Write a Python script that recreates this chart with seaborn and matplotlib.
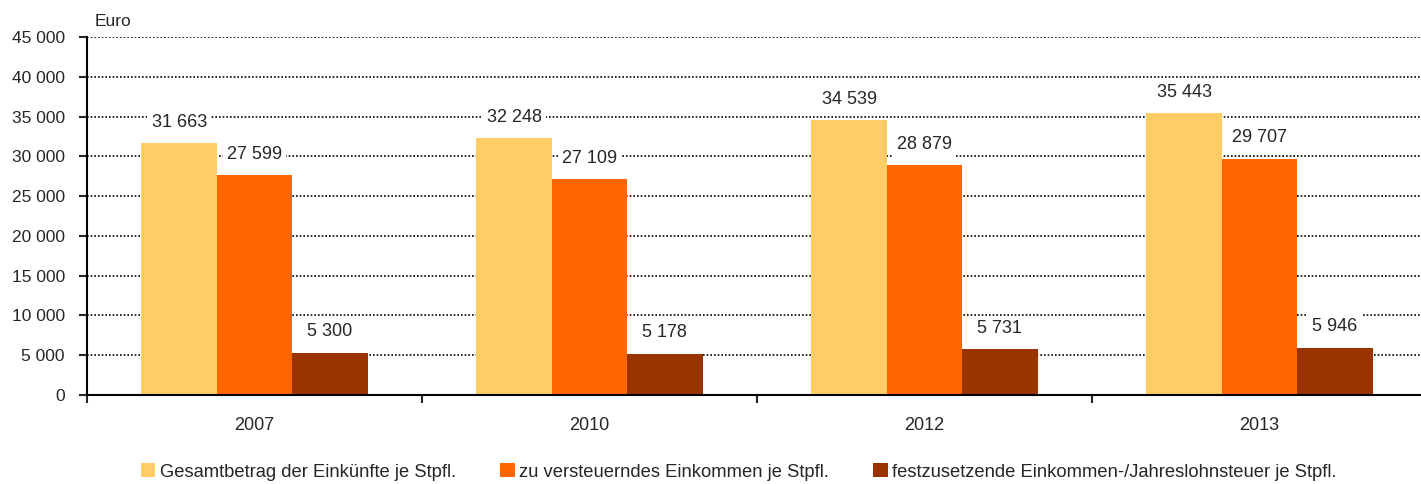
import matplotlib
matplotlib.use("Agg")
import matplotlib.pyplot as plt
from matplotlib.ticker import FuncFormatter, MultipleLocator
from matplotlib.patches import Patch
import seaborn as sns
import pandas as pd

years = ["2007", "2010", "2012", "2013"]
series = [
    "Gesamtbetrag der Einkünfte je Stpfl.",
    "zu versteuerndes Einkommen je Stpfl.",
    "festzusetzende Einkommen-/Jahreslohnsteuer je Stpfl.",
]
gesamtbetrag = [31663, 32248, 34539, 35443]
zu_versteuern = [27599, 27109, 28879, 29707]
steuer = [5300, 5178, 5731, 5946]
colors = ["#FFCC66", "#FF6600", "#993300"]


def fmt(v, _=None):
    return f"{int(v):,}".replace(",", " ")


rows = []
for name, vals in zip(series, [gesamtbetrag, zu_versteuern, steuer]):
    for y, v in zip(years, vals):
        rows.append({"Jahr": y, "Reihe": name, "Wert": v})
df = pd.DataFrame(rows)

sns.set_style("white")
plt.rcParams["font.family"] = ["Liberation Sans", "DejaVu Sans"]

fig = plt.figure(figsize=(14.21, 4.84), dpi=100)
ax = fig.add_axes([87 / 1421, 1 - 395 / 484, 1340 / 1421, 358 / 484])

sns.barplot(
    data=df, x="Jahr", y="Wert", hue="Reihe", palette=colors,
    width=0.675, ax=ax, legend=False, saturation=1, linewidth=0,
)

for container in ax.containers:
    labels = [fmt(b.get_height()) for b in container]
    ax.bar_label(
        container, labels=labels, padding=9, fontsize=13,
        bbox=dict(facecolor="white", edgecolor="none", pad=3),
    )

ax.set_ylim(0, 45000)
ax.set_xlim(-0.5, 3.5)
ax.yaxis.set_major_locator(MultipleLocator(5000))
ax.yaxis.set_major_formatter(FuncFormatter(fmt))
ax.grid(axis="y", color="black", linestyle=(0, (1, 1.2)), linewidth=1.2)
ax.set_axisbelow(True)

for side in ["top", "right"]:
    ax.spines[side].set_visible(False)
for side in ["left", "bottom"]:
    ax.spines[side].set_color("black")
    ax.spines[side].set_linewidth(1.5)

ax.set_xlabel("")
ax.set_ylabel("")
ax.tick_params(axis="y", left=True, length=6, width=1.5, labelsize=12.5, pad=10)
ax.tick_params(axis="x", bottom=False, labelsize=13, pad=12)
# separator ticks between the year groups
ax.set_xticks([-0.5, 0.5, 1.5, 2.5], minor=True)
ax.tick_params(axis="x", which="minor", bottom=True, length=6, width=1.5)

ax.text(95 / 1421, 1 - 22 / 484, "Euro", transform=fig.transFigure,
        fontsize=12.5, ha="left", va="center")

handles = [Patch(facecolor=c, edgecolor="none") for c in colors]
fig.legend(
    handles, series, loc="center left", bbox_to_anchor=(124 / 1421, 1 - 472 / 484),
    ncol=3, frameon=False, fontsize=13.2, handlelength=0.8, handleheight=0.8,
    handletextpad=0.25, columnspacing=2.4,
)

fig.savefig("out.png", dpi=100)
